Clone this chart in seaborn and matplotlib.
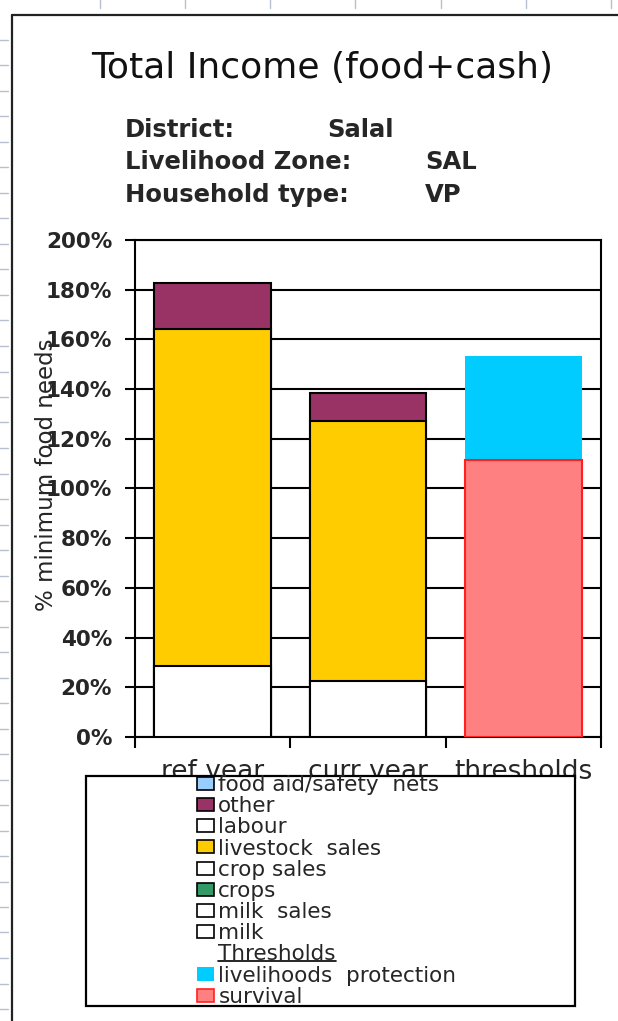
"""
Total income (food+cash) chart for Salal / SAL / VP households.
Stacked income sources for the reference and current year, next to the
survival and livelihoods protection thresholds.
"""

import matplotlib
matplotlib.use("Agg")
import matplotlib.pyplot as plt
import seaborn as sns
import pandas as pd
import numpy as np
from matplotlib.patches import Patch, Rectangle
from matplotlib.lines import Line2D
from matplotlib.ticker import PercentFormatter

# data (% of minimum food needs)
categories = ["ref year", "curr year", "thresholds"]
years = ["ref year", "curr year"]
milk = [28.7, 22.4]
milk_sales = [0, 0]
crops = [0, 0]
crop_sales = [0, 0]
livestock_sales = [135.3, 104.7]
labour = [0, 0]
other = [18.6, 11.4]
food_aid = [0, 0]
survival = [111.4]
livelihoods_protection = [41.9]

# stack order from bottom to top, with colours
income_layers = [
    ("milk", milk, "white"),
    ("milk  sales", milk_sales, "white"),
    ("crops", crops, "#339966"),
    ("crop sales", crop_sales, "white"),
    ("livestock  sales", livestock_sales, "#FFCC00"),
    ("labour", labour, "white"),
    ("other", other, "#993366"),
    ("food aid/safety  nets", food_aid, "#99CCFF"),
]

sns.set_style("white")
plt.rcParams["font.family"] = ["DejaVu Sans"]

fig = plt.figure(figsize=(6.18, 10.21), dpi=100)
ax = fig.add_axes([135 / 618, 1 - 737 / 1021, 466 / 618, 497 / 1021])

# cumulative heights, drawn from the top layer down so lower layers cover them
cum = np.cumsum([layer[1] for layer in income_layers], axis=0)
for i in range(len(income_layers) - 1, -1, -1):
    name, vals, col = income_layers[i]
    if i > 0 and not any(vals):
        continue
    df = pd.DataFrame({"cat": years, "val": cum[i]})
    sns.barplot(data=df, x="cat", y="val", order=categories, color=col,
                saturation=1, width=0.75, edgecolor="black", linewidth=1.5,
                errorbar=None, ax=ax, zorder=3)

thr_total = [survival[0] + livelihoods_protection[0]]
sns.barplot(x=["thresholds"], y=thr_total, order=categories, color="#00CCFF",
            saturation=1, width=0.75, linewidth=0, errorbar=None, ax=ax, zorder=3)
sns.barplot(x=["thresholds"], y=survival, order=categories, color="#FF8080",
            saturation=1, width=0.75, edgecolor="#FF2020", linewidth=1.5,
            errorbar=None, ax=ax, zorder=3)

# axes styling
ax.set_ylim(0, 200)
ax.set_xlim(-0.5, 2.5)
ax.set_yticks(range(0, 201, 20))
ax.yaxis.set_major_formatter(PercentFormatter(decimals=0))
ax.grid(axis="y", color="black", linewidth=1.5, zorder=0)
ax.set_axisbelow(True)
for s in ax.spines.values():
    s.set_visible(True)
    s.set_color("black")
    s.set_linewidth(1.5)

ax.set_xticks([-0.5, 0.5, 1.5, 2.5])
ax.set_xticklabels([""] * 4)
ax.set_xticks([0, 1, 2], minor=True)
ax.set_xticklabels(categories, minor=True)
ax.tick_params(axis="x", which="major", length=8, width=1.5, direction="out",
               bottom=True, color="black")
ax.tick_params(axis="x", which="minor", length=0, pad=16, labelsize=19)
ax.tick_params(axis="y", length=7.5, width=1.5, direction="out", left=True,
               pad=9, labelsize=15.5, color="black")
for t in ax.get_yticklabels():
    t.set_fontweight("bold")

ax.set_xlabel("")
ax.set_ylabel("% minimum food needs", fontsize=16.5)
ax.yaxis.set_label_coords(-0.165, 0.527)

# titles
fig.text(0.522, 1 - 68 / 1021, "Total Income (food+cash)", fontsize=26,
         ha="center", va="center", color="#111111")
info = [("District:", "Salal", 327, 130),
        ("Livelihood Zone:", "SAL", 425, 162),
        ("Household type:", "VP", 425, 195)]
for lab, val, xv, yy in info:
    fig.text(125 / 618, 1 - yy / 1021, lab, fontsize=17.5, fontweight="bold",
             va="center")
    fig.text(xv / 618, 1 - yy / 1021, val, fontsize=17.5, fontweight="bold",
             va="center")

# chart area border and spreadsheet marks
fig.add_artist(Line2D([12 / 618, 12 / 618], [0, 1 - 15 / 1021], color="#222222",
                      linewidth=1.6))
fig.add_artist(Line2D([12 / 618, 1], [1 - 15 / 1021, 1 - 15 / 1021],
                      color="#222222", linewidth=1.6))
for yy in np.arange(40, 1021, 25.5):
    fig.add_artist(Line2D([0, 8 / 618], [1 - yy / 1021] * 2, color="#B8C0D0",
                          linewidth=1))
for xx in [100, 185, 270, 355, 441, 526, 611]:
    fig.add_artist(Line2D([xx / 618] * 2, [1, 1 - 8 / 1021], color="#B8C0D0",
                          linewidth=1))

# legend box
fig.add_artist(Rectangle((86 / 618, 1 - 1006 / 1021), 489 / 618, 230 / 1021,
                         facecolor="white", edgecolor="black", linewidth=1.6,
                         transform=fig.transFigure, zorder=5))

handles = []
labels = []
for name, vals, col in reversed(income_layers):
    handles.append(Patch(facecolor=col, edgecolor="black", linewidth=1.2))
    labels.append(name)
handles.append(Patch(facecolor="none", edgecolor="none"))
labels.append("Thresholds")
handles.append(Patch(facecolor="#00CCFF", edgecolor="#00CCFF", linewidth=0))
labels.append("livelihoods  protection")
handles.append(Patch(facecolor="#FF8080", edgecolor="#FF2020", linewidth=1.2))
labels.append("survival")

leg = fig.legend(handles, labels, loc="upper left",
                 bbox_to_anchor=(197 / 618, 1 - 775 / 1021), frameon=False,
                 fontsize=15.5, labelspacing=0.055, handlelength=0.79,
                 handleheight=0.56, handletextpad=0.2, borderpad=0,
                 borderaxespad=0)
leg.set_zorder(6)

# underline the "Thresholds" header
fig.canvas.draw()
bb = leg.get_texts()[8].get_window_extent()
fig.add_artist(Line2D([bb.x0, bb.x1], [bb.y0 + 3, bb.y0 + 3], color="black",
                      linewidth=1.2, transform=None, zorder=7))

fig.savefig("out.png", dpi=100)
